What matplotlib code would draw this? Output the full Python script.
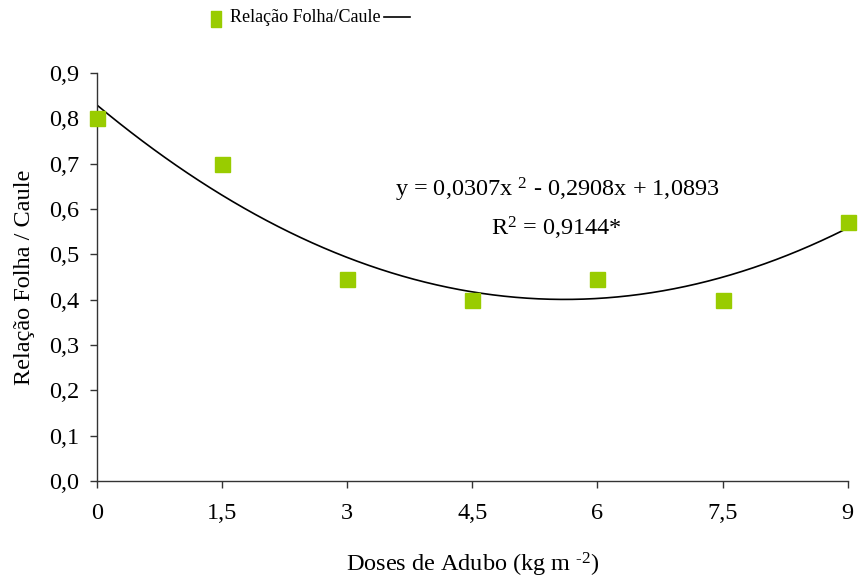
import numpy as np
import matplotlib.pyplot as plt
from matplotlib.lines import Line2D

plt.rcParams["font.family"] = ["Liberation Serif", "DejaVu Serif"]
plt.rcParams["mathtext.fontset"] = "custom"
plt.rcParams["mathtext.rm"] = "Liberation Serif"
plt.rcParams["mathtext.default"] = "regular"

# Doses de adubo (kg m-2) e relação folha/caule observada
doses = [0, 1.5, 3, 4.5, 6, 7.5, 9]
relacao = [0.80, 0.70, 0.445, 0.40, 0.445, 0.40, 0.572]

# Coeficientes da regressão quadrática (x = número do tratamento, 1..7)
coef_a = 0.0307
coef_b = -0.2908
coef_c = 1.0893
r2 = 0.9144

x_ticks = [0, 1.5, 3, 4.5, 6, 7.5, 9]
x_labels = ["0", "1,5", "3", "4,5", "6", "7,5", "9"]
y_ticks = np.arange(0, 0.91, 0.1)

verde = "#99cc00"
fs = 17.5

fig = plt.figure(figsize=(8.58, 5.79), dpi=100)
ax = fig.add_axes([0.113, 0.169, 0.875, 0.705])

# curva ajustada
xs = np.linspace(0, 9, 200)
trat = xs / 1.5 + 1
ys = coef_a * trat ** 2 + coef_b * trat + coef_c
ax.plot(xs, ys, color="black", lw=1.2, zorder=2)

ax.plot(doses, relacao, ls="none", marker="s", ms=10.8, color=verde,
        mec=verde, clip_on=False, zorder=3)

ax.set_xlim(0, 9)
ax.set_ylim(0, 0.9)
ax.set_xticks(x_ticks)
ax.set_xticklabels(x_labels)
ax.set_yticks(y_ticks)
ax.set_yticklabels([f"{v:.1f}".replace(".", ",") for v in y_ticks])

for side in ["top", "right"]:
    ax.spines[side].set_visible(False)
for side in ["left", "bottom"]:
    ax.spines[side].set_color("#333333")
    ax.spines[side].set_linewidth(1.0)

ax.tick_params(axis="both", direction="out", length=5, width=1.0,
               color="#333333", labelsize=fs)
ax.tick_params(axis="x", pad=11)
ax.tick_params(axis="y", pad=8)

ax.set_xlabel(r"Doses de Adubo (kg m $^{\text{-2}}$)", fontsize=fs, labelpad=19)
ax.set_ylabel("Relação Folha / Caule", fontsize=fs, labelpad=10)

ax.text(0.6125, 0.713,
        r"y = 0,0307x $^{2}$ - 0,2908x + 1,0893",
        transform=ax.transAxes, ha="center", va="center", fontsize=fs)
ax.text(0.6125, 0.618, r"R$^{2}$ = 0,9144*",
        transform=ax.transAxes, ha="center", va="center", fontsize=fs)

# legenda: marcador, rótulo e traço da curva
marca = [(-0.3, -0.5), (0.3, -0.5), (0.3, 0.5), (-0.3, 0.5), (-0.3, -0.5)]
fig.add_artist(Line2D([216.5 / 858], [1 - 18.5 / 579], transform=fig.transFigure,
                      marker=marca, ms=11, color=verde, ls="none"))
leg_txt = fig.text(230 / 858, 1 - 18 / 579, "Relação Folha/Caule",
                   ha="left", va="center", fontsize=13)
fig.canvas.draw()
bb = leg_txt.get_window_extent().transformed(fig.transFigure.inverted())
yl = 1 - 17 / 579
fig.add_artist(Line2D([bb.x1 + 3 / 858, bb.x1 + 29 / 858], [yl, yl],
                      transform=fig.transFigure, color="black", lw=1.2))

fig.savefig("out.png", dpi=100)
